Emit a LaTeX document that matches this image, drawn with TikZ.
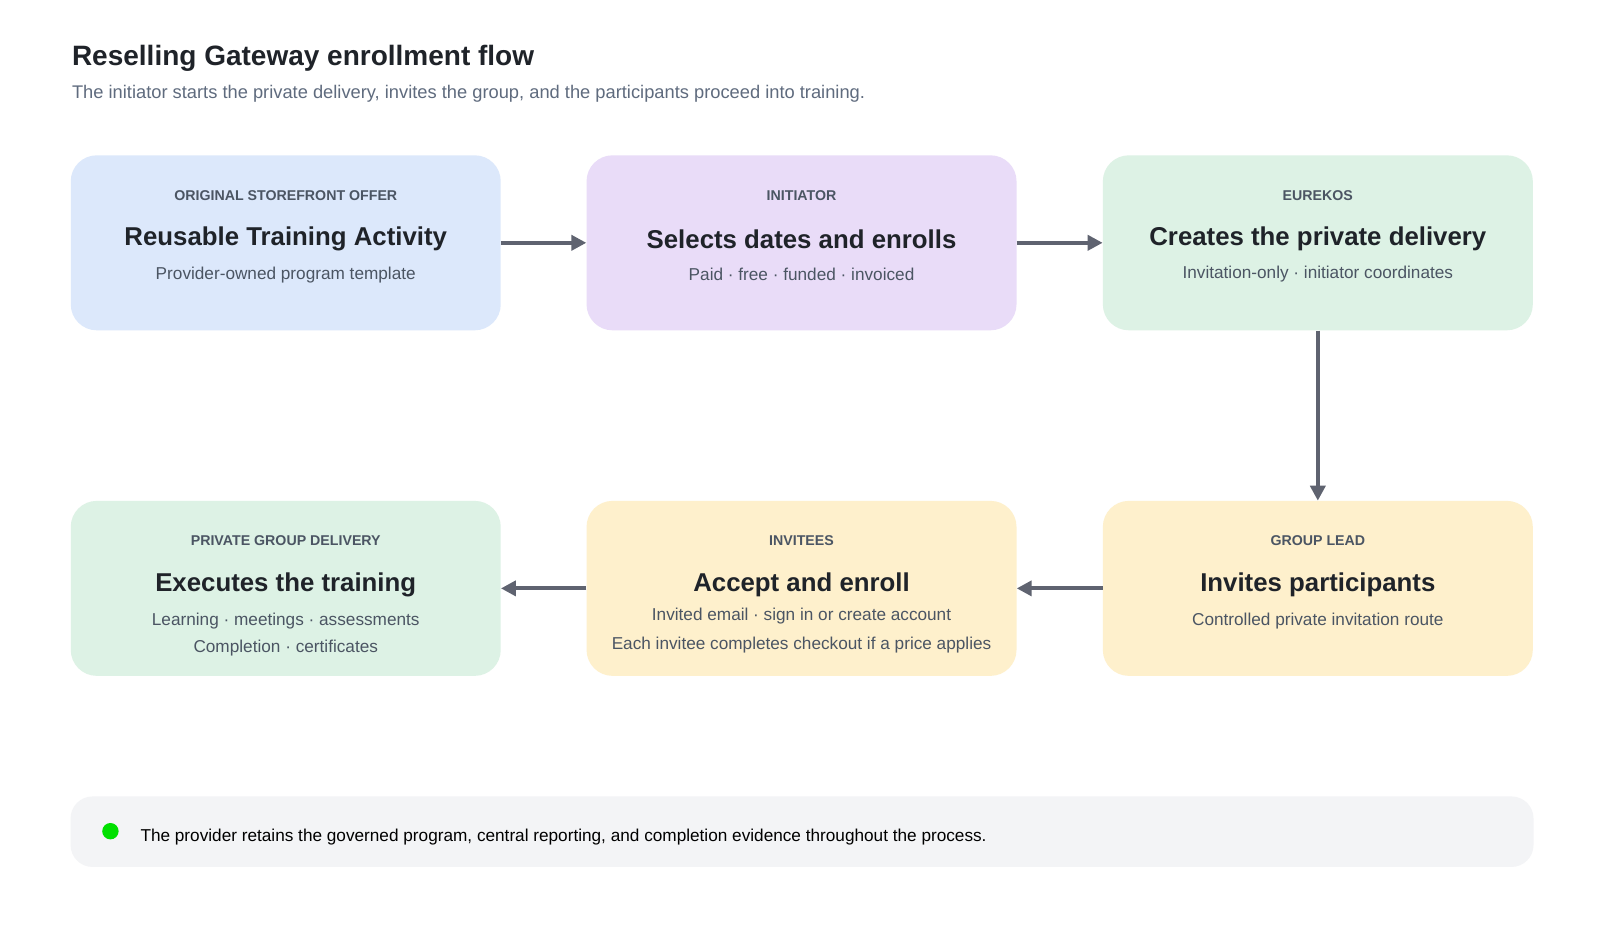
\documentclass[tikz,border=0pt]{standalone}
\usepackage{fontspec}
\setmainfont{Liberation Sans}
\usetikzlibrary{arrows.meta,positioning}
\definecolor{flowblue}{HTML}{DCE8FB}
\definecolor{flowpurple}{HTML}{E9DCF8}
\definecolor{flowgreen}{HTML}{DDF2E5}
\definecolor{flowyellow}{HTML}{FEF0CC}
\definecolor{flownote}{HTML}{F3F4F6}
\definecolor{flowink}{HTML}{1F2329}
\definecolor{flowmuted}{HTML}{4B5563}
\definecolor{flowsub}{HTML}{5F6B7E}
\definecolor{flowarrow}{HTML}{5F6370}
\definecolor{flowdot}{HTML}{00E000}

\begin{document}
\begin{tikzpicture}[x=1.0224pt,y=-1.0224pt,
    box/.style={rectangle, draw=none, rounded corners=26pt, minimum width=430pt, minimum height=175pt, inner sep=0pt},
    tag/.style={font=\fontsize{14.2}{16}\selectfont\bfseries, text=flowmuted},
    head/.style={font=\fontsize{25.8}{30}\selectfont\bfseries, text=flowink},
    sub/.style={font=\fontsize{17.2}{20}\selectfont, text=flowmuted},
    arrow/.style={-{Triangle[length=15pt,width=15pt]}, line width=4.2pt, draw=flowarrow}
]
    \useasboundingbox (0,0) rectangle (1565,919.4);
    \fill[white] (0,0) rectangle (1565,919.4);

    % heading
    \node[anchor=west, font=\fontsize{28}{32}\selectfont\bfseries, text=flowink] (title) at (67,57) {Reselling Gateway enrollment flow};
    \node[anchor=west, font=\fontsize{18.3}{21}\selectfont, text=flowsub] (lead) at (67,92) {The initiator starts the private delivery, invites the group, and the participants proceed into training.};

    % top row
    \node[box, fill=flowblue] (offer) at (279.5,237.5) {};
    \node[box, fill=flowpurple] (init) at (784,237.5) {};
    \node[box, fill=flowgreen] (eurekos) at (1289,237.5) {};
    % bottom row
    \node[box, fill=flowgreen] (delivery) at (279.5,575.5) {};
    \node[box, fill=flowyellow] (invitees) at (784,575.5) {};
    \node[box, fill=flowyellow] (leadbox) at (1289,575.5) {};

    \node[tag] (offertag) at (279.5,191) {ORIGINAL STOREFRONT OFFER};
    \node[head] (offerhead) at (279.5,234) {Reusable Training Activity};
    \node[sub] (offersub) at (279.5,269) {Provider-owned program template};

    \node[tag] (inittag) at (784,191) {INITIATOR};
    \node[head] (inithead) at (784,234) {Selects dates and enrolls};
    \node[sub] (initsub) at (784,268) {Paid · free · funded · invoiced};

    \node[tag] (eurekostag) at (1289,191) {EUREKOS};
    \node[head] (eurekoshead) at (1289,234) {Creates the private delivery};
    \node[sub] (eurekossub) at (1289,268) {Invitation-only · initiator coordinates};

    \node[tag] (deliverytag) at (279.5,529) {PRIVATE GROUP DELIVERY};
    \node[head] (deliveryhead) at (279.5,572) {Executes the training};
    \node[sub] (deliverysub) at (279.5,607) {Learning · meetings · assessments};
    \node[sub] (deliverysubb) at (279.5,634) {Completion · certificates};

    \node[tag] (inviteestag) at (784,529) {INVITEES};
    \node[head] (inviteeshead) at (784,572) {Accept and enroll};
    \node[sub] (inviteessub) at (784,603) {Invited email · sign in or create account};
    \node[sub] (inviteessubb) at (784,631) {Each invitee completes checkout if a price applies};

    \node[tag] (leadtag) at (1289,529) {GROUP LEAD};
    \node[head] (leadhead) at (1289,572) {Invites participants};
    \node[sub] (leadsub) at (1289,607) {Controlled private invitation route};

    % connectors
    \draw[arrow] (offer.east) -- (init.west);
    \draw[arrow] (init.east) -- (eurekos.west);
    \draw[arrow] (eurekos.south) -- (leadbox.north);
    \draw[arrow] (leadbox.west) -- (invitees.east);
    \draw[arrow] (invitees.west) -- (delivery.east);

    % note
    \node[rectangle, rounded corners=22pt, fill=flownote, minimum width=1463pt, minimum height=70.5pt, inner sep=0pt] (note) at (784.5,813.5) {};
    \fill[flowdot] (108,813) circle (8.2pt);
    \node[anchor=west, font=\fontsize{17.2}{20}\selectfont, text=black] (notetext) at (134,819) {The provider retains the governed program, central reporting, and completion evidence throughout the process.};
\end{tikzpicture}
\end{document}
